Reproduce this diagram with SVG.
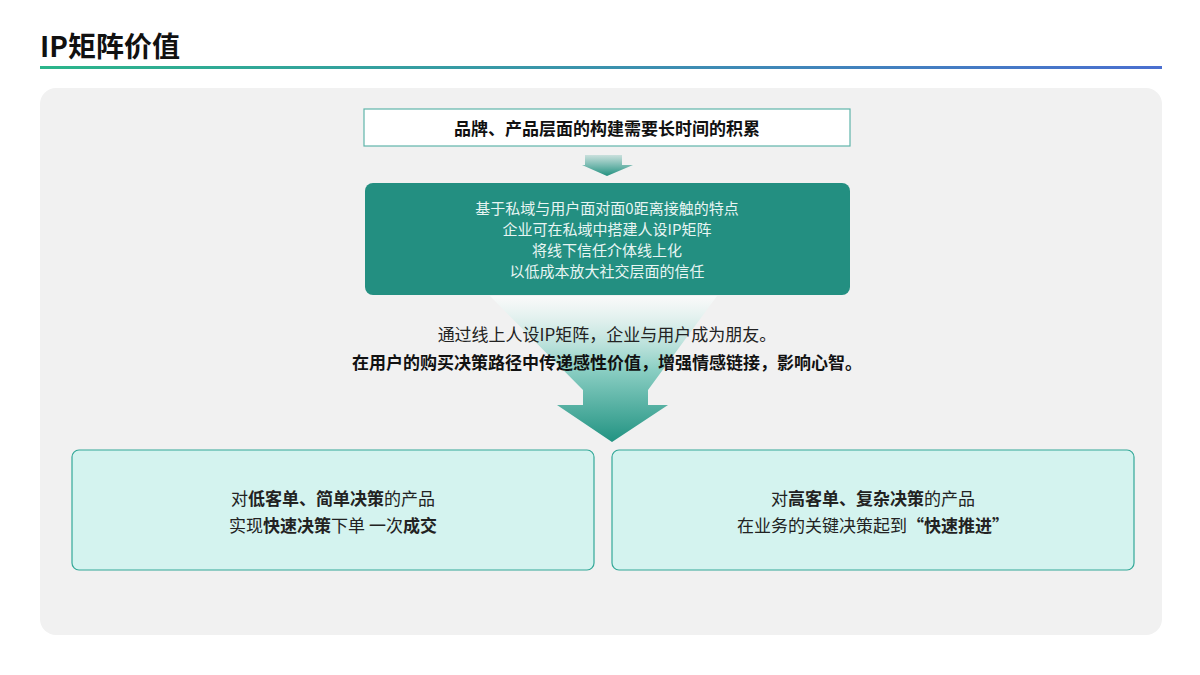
<svg xmlns="http://www.w3.org/2000/svg" width="1200" height="675" viewBox="0 0 1200 675">
<defs>
<linearGradient id="tl" x1="0" x2="1"><stop offset="0" stop-color="#2bb58a"/><stop offset="1" stop-color="#4a6fd0"/></linearGradient>
<linearGradient id="sa" x1="0" y1="0" x2="0" y2="1"><stop offset="0" stop-color="#2a9a8a" stop-opacity="0.2"/><stop offset="1" stop-color="#22907f"/></linearGradient>
<linearGradient id="ba" x1="0" y1="0" x2="0" y2="1"><stop offset="0" stop-color="#ffffff" stop-opacity="0.6"/><stop offset="0.5" stop-color="#8ccfc4"/><stop offset="1" stop-color="#229382"/></linearGradient>
<style>
.t{font-family:"Noto Sans CJK SC","Noto Sans",sans-serif;text-anchor:middle}
.b{font-weight:bold}
.card{fill:#d4f3ef;stroke:#33a898;stroke-width:1.2}
</style>
</defs>
<rect width="1200" height="675" fill="#fff"/>
<text x="40" y="57" font-family="Noto Sans CJK SC,sans-serif" font-weight="bold" font-size="28" fill="#111">IP矩阵价值</text>
<rect x="40" y="66" width="1122" height="3" fill="url(#tl)"/>
<rect x="40" y="88" width="1122" height="547" rx="16" fill="#f1f1f1"/>
<g id="connectors">
<path d="M585,155 H622 V165 H633 L607,176 L582,165 H585 Z" fill="url(#sa)"/>
<path d="M490,296 H717 L648,390 V405 H668 L612,442 L557,405 H583 V390 Z" fill="url(#ba)"/>
</g>
<g id="top">
<rect x="364" y="109" width="486" height="37" fill="#fff" stroke="#5fb5aa" stroke-width="1.2"/>
<text class="t b" x="607" y="135" font-size="17" fill="#111">品牌、产品层面的构建需要长时间的积累</text>
</g>
<g id="mid">
<rect x="365" y="183" width="485" height="112" rx="8" fill="#238f81"/>
<text class="t" x="607" y="214" font-size="15" fill="#e8f5f3">基于私域与用户面对面0距离接触的特点</text>
<text class="t" x="607" y="235" font-size="15" fill="#e8f5f3">企业可在私域中搭建人设IP矩阵</text>
<text class="t" x="607" y="256" font-size="15" fill="#e8f5f3">将线下信任介体线上化</text>
<text class="t" x="607" y="277" font-size="15" fill="#e8f5f3">以低成本放大社交层面的信任</text>
</g>
<g id="msg">
<text class="t" x="607" y="341" font-size="17" fill="#222">通过线上人设IP矩阵，企业与用户成为朋友。</text>
<text class="t b" x="607" y="369" font-size="17" fill="#111">在用户的购买决策路径中传递感性价值，增强情感链接，影响心智。</text>
</g>
<g id="left">
<rect class="card" x="72" y="450" width="522" height="120" rx="7"/>
<text class="t" x="333" y="505" font-size="17" fill="#222">对<tspan class="b">低客单、简单决策</tspan>的产品</text>
<text class="t" x="333" y="532" font-size="17" fill="#222">实现<tspan class="b">快速决策</tspan>下单 一次<tspan class="b">成交</tspan></text>
</g>
<g id="right">
<rect class="card" x="612" y="450" width="522" height="120" rx="7"/>
<text class="t" x="873" y="505" font-size="17" fill="#222">对<tspan class="b">高客单、复杂决策</tspan>的产品</text>
<text class="t" x="873" y="532" font-size="17" fill="#222">在业务的关键决策起到<tspan class="b">“快速推进”</tspan></text>
</g>
</svg>
